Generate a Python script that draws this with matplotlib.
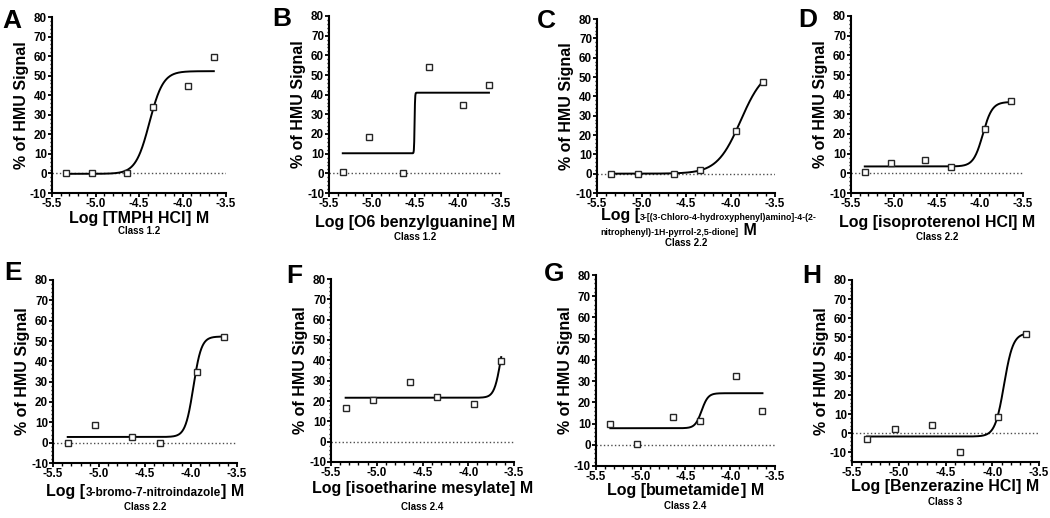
import numpy as np
import matplotlib
matplotlib.use("Agg")
import matplotlib.pyplot as plt
from matplotlib.ticker import MultipleLocator, FormatStrFormatter
from matplotlib.offsetbox import TextArea, HPacker, VPacker, AnnotationBbox

plt.rcParams['font.family'] = ['Liberation Sans', 'DejaVu Sans']
plt.rcParams['font.weight'] = 'bold'
plt.rcParams['axes.unicode_minus'] = False

# ---------------- data ----------------
log_conc = [-5.34, -5.04, -4.64, -4.34, -3.94, -3.64]

panel_letters = ['A', 'B', 'C', 'D', 'E', 'F', 'G', 'H']

signal_A = [0.0, 0.0, 0.0, 33.8, 44.5, 59.5]
signal_B = [0.9, 18.6, 0.0, 53.9, 34.7, 44.9]
signal_C = [0.0, 0.0, 0.0, 1.7, 21.9, 47.5]
signal_D = [0.5, 5.1, 6.8, 3.2, 22.4, 36.6]
signal_E = [0.0, 8.5, 2.9, 0.0, 34.9, 52.2]
signal_F = [16.5, 20.5, 29.5, 21.8, 18.5, 39.9]
signal_G = [10.0, 0.2, 13.3, 11.4, 32.2, 16.1]
signal_H = [-3.0, 2.3, 4.3, -9.7, 8.5, 52.0]
signals = [signal_A, signal_B, signal_C, signal_D,
           signal_E, signal_F, signal_G, signal_H]

# fitted 4-parameter logistic curves
fit_bottom = [-0.2, 10.2, 0.0, 3.5, 2.8, 21.6, 7.8, -1.7]
fit_top = [52.3, 41.0, 55.0, 36.3, 52.2, 60.0, 24.3, 52.3]
fit_logec50 = [-4.38, -4.505, -3.885, -3.967, -3.974, -3.643, -4.32, -3.874]
fit_hill = [5.5, 150.0, 3.27, 8.0, 10.0, 12.0, 12.0, 9.0]

compounds = ['TMPH HCl', 'O6 benzylguanine',
             '3-[(3-Chloro-4-hydroxyphenyl)amino]-4-(2-\nnitrophenyl)-1H-pyrrol-2,5-dione',
             'isoproterenol HCl', '3-bromo-7-nitroindazole',
             'isoetharine mesylate', 'bumetamide', 'Benzerazine HCl']
classes = ['Class 1.2', 'Class 1.2', 'Class 2.2', 'Class 2.2',
           'Class 2.2', 'Class 2.4', 'Class 2.4', 'Class 3']

y_ticks = [-10, 0, 10, 20, 30, 40, 50, 60, 70, 80]
x_ticks = [-5.5, -5.0, -4.5, -4.0, -3.5]

# ---------------- layout (pixels) ----------------
W, H = 1050, 518
# left, top, right, bottom
boxes = [(52, 17, 226, 193), (329, 16, 501, 193), (597, 19, 775, 193), (851, 16, 1023, 193),
         (53, 280, 237, 463), (331, 279, 514, 462), (596, 275, 775, 466), (852, 280, 1039, 462)]
ylows = [-10, -10, -10, -10, -10, -10, -10, -15]
name_sizes = [11.5, 11.5, 6.3, 11.5, 8.5, 11.5, 11.5, 11.5]
label_off = [18, 22, 15, 22, 21, 19, 17, 17]     # px below spine (top of label)
class_off = [38, 44, 50, 44, 44, 45, 40, 40]     # px below spine (center of class text)
letter_pos = [(2, 9), (272, 7), (537, 9), (798, 8), (4, 261), (286, 264), (544, 262), (802, 264)]

fig = plt.figure(figsize=(W / 100, H / 100), dpi=100)

big = dict(fontsize=11.5, fontweight='bold', color='black')
for i in range(8):
    l, t, r, b = boxes[i]
    ax = fig.add_axes([l / W, 1 - b / H, (r - l) / W, (b - t) / H])
    ax.set_xlim(-5.5, -3.5)
    ax.set_ylim(ylows[i], 80)
    for s in ['top', 'right']:
        ax.spines[s].set_visible(False)
    for s in ['left', 'bottom']:
        ax.spines[s].set_linewidth(1.5)
    ax.set_xticks(x_ticks)
    ax.set_yticks(y_ticks)
    ax.xaxis.set_minor_locator(MultipleLocator(0.1))
    ax.yaxis.set_minor_locator(MultipleLocator(2))
    ax.xaxis.set_major_formatter(FormatStrFormatter('%.1f'))
    ax.tick_params(which='major', length=3, width=1.3, pad=0.6, labelsize=8.4)
    ax.tick_params(which='minor', length=1.8, width=1.0)
    for lab in ax.get_xticklabels() + ax.get_yticklabels():
        lab.set_fontweight('bold')

    ax.axhline(0, ls=':', lw=1.0, color='0.3', zorder=1)

    xs = np.linspace(log_conc[0], log_conc[-1], 400)
    ys = fit_bottom[i] + (fit_top[i] - fit_bottom[i]) / (1 + 10 ** ((fit_logec50[i] - xs) * fit_hill[i]))
    ax.plot(xs, ys, color='black', lw=1.4, zorder=2)
    ax.plot(log_conc, signals[i], ls='none', marker='s', ms=5, mfc='white',
            mec='0.15', mew=1.0, zorder=3)

    ax.set_ylabel('% of HMU Signal', fontsize=11.5, fontweight='bold', labelpad=1)

    # x label with mixed font sizes
    name = compounds[i]
    small = dict(fontsize=name_sizes[i], fontweight='bold', color='black')
    if '\n' in name:
        l1, l2 = name.split('\n')
        row1 = HPacker(children=[TextArea('Log [', textprops=big), TextArea(l1, textprops=small)],
                       align='baseline', pad=0, sep=0)
        row2 = HPacker(children=[TextArea(l2 + ']', textprops=small), TextArea(' M', textprops=big)],
                       align='baseline', pad=0, sep=0)
        packed = VPacker(children=[row1, row2], align='left', pad=0, sep=0)
        ab = AnnotationBbox(packed, (0.02, 0), xycoords='axes fraction',
                            xybox=(0, -label_off[i] * 0.72), boxcoords='offset points',
                            box_alignment=(0, 1), frameon=False, pad=0)
    else:
        packed = HPacker(children=[TextArea('Log [', textprops=big),
                                   TextArea(name, textprops=small),
                                   TextArea('] M', textprops=big)],
                         align='baseline', pad=0, sep=0)
        ab = AnnotationBbox(packed, (0.5, 0), xycoords='axes fraction',
                            xybox=(0, -label_off[i] * 0.72), boxcoords='offset points',
                            box_alignment=(0.5, 1), frameon=False, pad=0)
    ax.add_artist(ab)
    ax.annotate(classes[i], xy=(0.5, 0), xycoords='axes fraction',
                xytext=(0, -class_off[i] * 0.72), textcoords='offset points',
                ha='center', va='center', fontsize=7, fontweight='bold')

    lx, ly = letter_pos[i]
    fig.text(lx / W, 1 - ly / H, panel_letters[i], fontsize=19, fontweight='bold',
             ha='left', va='top')

fig.savefig('out.png', dpi=100)
